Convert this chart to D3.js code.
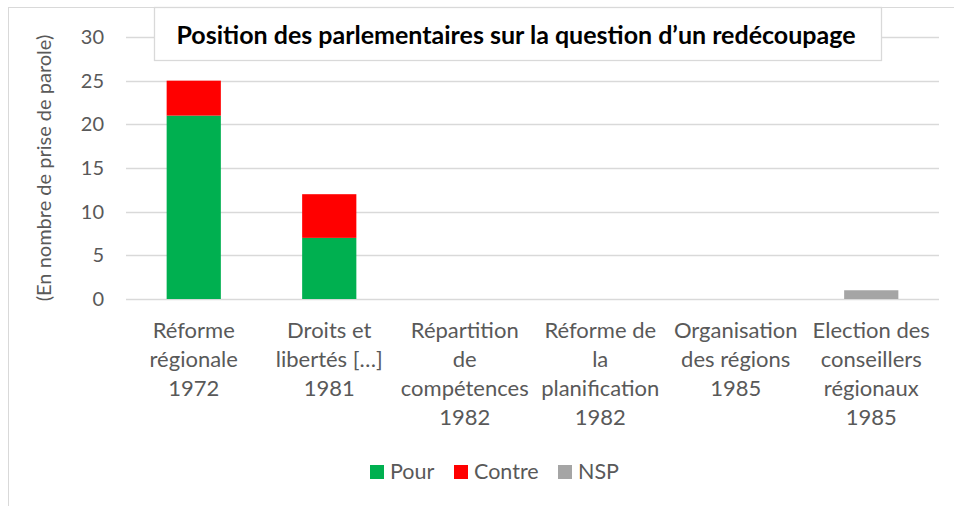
<!DOCTYPE html>
<html>
<head>
<meta charset="utf-8">
<script src="https://cdn.jsdelivr.net/npm/d3@7"></script>
<style>
  html, body { margin: 0; padding: 0; background: #fff; }
  svg { display: block; font-family: Lato, "Open Sans", sans-serif; }
</style>
</head>
<body>
<svg id="chart" width="954" height="506"></svg>
<script>
// Categories (one label line per array entry)
const categories = [
  ["Réforme", "régionale", "1972"],
  ["Droits et", "libertés […]", "1981"],
  ["Répartition", "de", "compétences", "1982"],
  ["Réforme de", "la", "planification", "1982"],
  ["Organisation", "des régions", "1985"],
  ["Election des", "conseillers", "régionaux", "1985"]
];
const categoryKeys = ["c1972", "c1981", "c1982a", "c1982b", "c1985a", "c1985b"];

// Series values (number of speeches)
const pour   = [21, 7, 0, 0, 0, 0];
const contre = [4, 5, 0, 0, 0, 0];
const nsp    = [0, 0, 0, 0, 0, 1];

const seriesNames = ["Pour", "Contre", "NSP"];
const seriesColors = ["#00B050", "#FF0000", "#A5A5A5"];
const yTicks = [0, 5, 10, 15, 20, 25, 30];

const title = "Position des parlementaires sur la question d\u2019un redécoupage";
const yTitle = "(En nombre de prise de parole)";

const svg = d3.select("#chart");
const textColor = "#595959";
const gridColor = "#d9d9d9";

// Outer chart frame
svg.append("rect")
  .attr("x", 8.5).attr("y", 7.5)
  .attr("width", 980).attr("height", 540)
  .attr("fill", "#fff").attr("stroke", gridColor).attr("stroke-width", 1);

const plot = { left: 126, right: 939, top: 37, bottom: 299 };

const x = d3.scaleBand()
  .domain(categoryKeys)
  .range([plot.left, plot.right])
  .paddingInner(0.6)
  .paddingOuter(0.3);

const y = d3.scaleLinear().domain([0, 30]).range([plot.bottom, plot.top]);

// Gridlines
svg.append("g").selectAll("line").data(yTicks).join("line")
  .attr("x1", plot.left).attr("x2", plot.right)
  .attr("y1", d => Math.round(y(d)) + 0.5).attr("y2", d => Math.round(y(d)) + 0.5)
  .attr("stroke", gridColor).attr("stroke-width", 1.3);

// Y axis tick labels
const yAxis = d3.axisLeft(y).tickValues(yTicks).tickSize(0).tickPadding(0);
const yg = svg.append("g").attr("transform", "translate(104,0)").call(yAxis);
yg.select(".domain").remove();
yg.selectAll("text")
  .attr("fill", textColor)
  .style("font-size", "20px")
  .style("font-family", "Lato, sans-serif");

// Stacked bars
const rows = categoryKeys.map((k, i) => ({ key: k, Pour: pour[i], Contre: contre[i], NSP: nsp[i] }));
const stack = d3.stack().keys(seriesNames)(rows);

svg.append("g").selectAll("g").data(stack).join("g")
  .attr("fill", (d, i) => seriesColors[i])
  .selectAll("rect").data(d => d.filter(p => p[1] - p[0] > 0)).join("rect")
  .attr("x", d => x(d.data.key))
  .attr("width", x.bandwidth())
  .attr("y", d => y(d[1]))
  .attr("height", d => y(d[0]) - y(d[1]));

// Category labels
const lineGap = 29;
const xl = svg.append("g");
categories.forEach((lines, i) => {
  const cx = x(categoryKeys[i]) + x.bandwidth() / 2;
  const t = xl.append("text")
    .attr("text-anchor", "middle")
    .attr("fill", textColor)
    .style("font-size", "22px");
  lines.forEach((ln, j) => {
    t.append("tspan").attr("x", cx).attr("y", 338 + j * lineGap).text(ln);
  });
});

// Y axis title
svg.append("text")
  .attr("transform", `translate(51,${(plot.top + plot.bottom) / 2}) rotate(-90)`)
  .attr("text-anchor", "middle")
  .attr("fill", textColor)
  .style("font-size", "20px")
  .text(yTitle);

// Title box
svg.append("rect")
  .attr("x", 154.5).attr("y", 7.5)
  .attr("width", 727).attr("height", 53)
  .attr("fill", "#fff").attr("stroke", gridColor).attr("stroke-width", 1.3);

svg.append("text")
  .attr("x", 516).attr("y", 44)
  .attr("text-anchor", "middle")
  .attr("fill", "#000")
  .style("font-size", "25px")
  .style("font-weight", "bold")
  .text(title);

// Legend
const legendItems = [
  { name: "Pour", color: seriesColors[0], x: 370 },
  { name: "Contre", color: seriesColors[1], x: 454 },
  { name: "NSP", color: seriesColors[2], x: 558 }
];
const lg = svg.append("g");
legendItems.forEach(it => {
  lg.append("rect").attr("x", it.x).attr("y", 465).attr("width", 14).attr("height", 14).attr("fill", it.color);
  lg.append("text").attr("x", it.x + 20).attr("y", 479)
    .attr("fill", textColor).style("font-size", "21.5px").text(it.name);
});
</script>
</body>
</html>
